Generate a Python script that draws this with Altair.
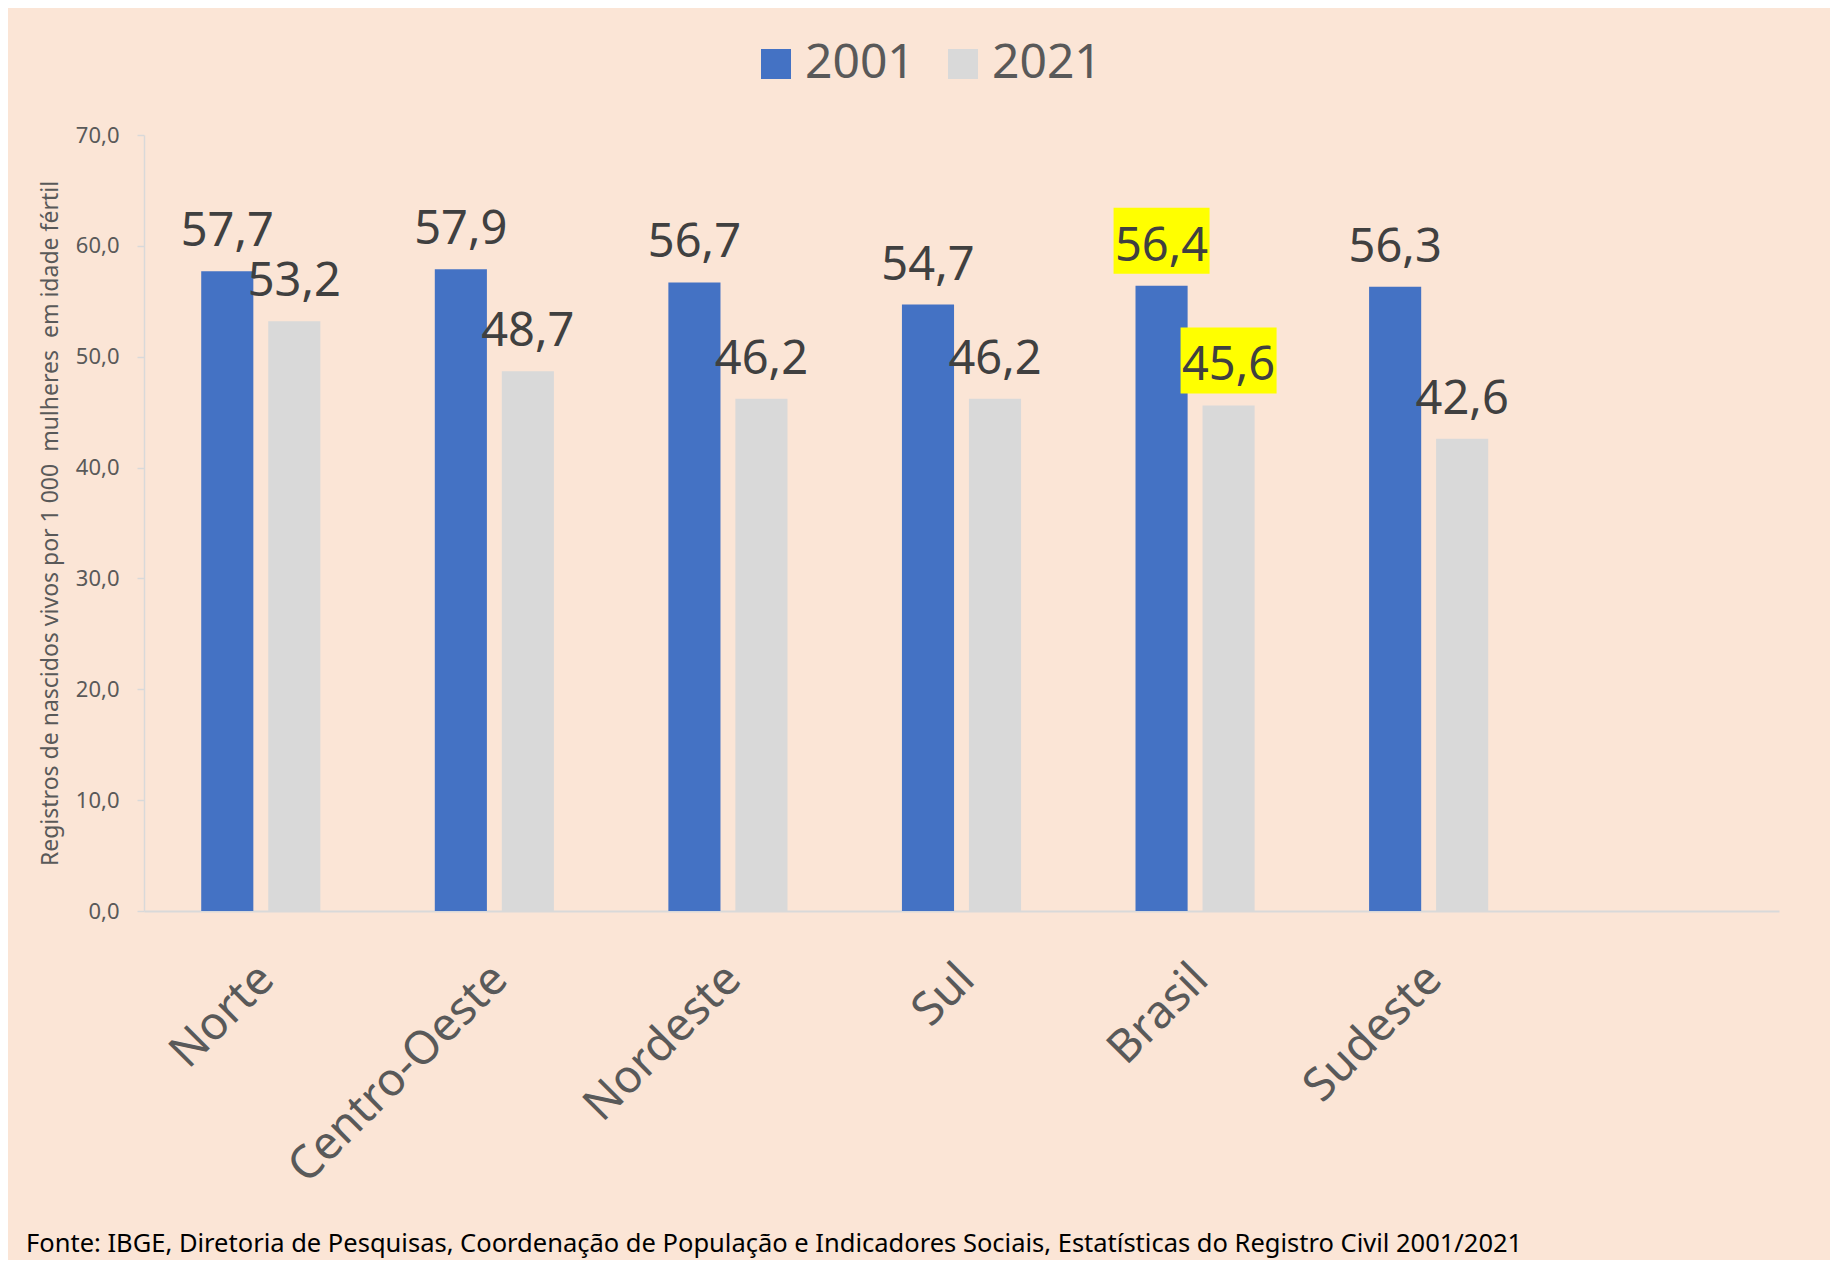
import altair as alt
import pandas as pd

regions = ["Norte", "Centro-Oeste", "Nordeste", "Sul", "Brasil", "Sudeste"]
v2001 = [57.7, 57.9, 56.7, 54.7, 56.4, 56.3]
v2021 = [53.2, 48.7, 46.2, 46.2, 45.6, 42.6]
years = ["2001", "2021"]
highlight = "Brasil"
y_ticks = [0, 10, 20, 30, 40, 50, 60, 70]
y_title = "Registros de nascidos vivos por 1 000\u00a0 mulheres\u00a0 em idade fértil"
source = ("Fonte: IBGE, Diretoria de Pesquisas, Coordenação de População e Indicadores Sociais, "
          "Estatísticas do Registro Civil 2001/2021")

rows = []
for r, a, b in zip(regions, v2001, v2021):
    for yr, v in zip(years, [a, b]):
        rows.append({"region": r, "year": yr, "value": v,
                     "label": f"{v:.1f}".replace(".", ",")})
df = pd.DataFrame(rows)

x_domain = regions + [" "]
FONT = "Noto Sans"

x = alt.X("region:N", sort=x_domain,
          scale=alt.Scale(domain=x_domain, paddingInner=0.49, paddingOuter=0.245),
          axis=alt.Axis(title=None, labelAngle=-45, labelFontSize=46, labelColor="#595959",
                        labelFont=FONT, domainColor="#D9D9D9", domainWidth=2, ticks=False,
                        labelPadding=45, labelLimit=0, labelOffset=-10))
xo = alt.XOffset("year:N", scale=alt.Scale(domain=years, paddingInner=0.2224, paddingOuter=0))
y = alt.Y("value:Q",
          scale=alt.Scale(domain=[0, 70], nice=False, zero=True),
          axis=alt.Axis(values=y_ticks,
                        labelExpr="replace(format(datum.value, '.1f'), '.', ',')",
                        labelFontSize=22, labelColor="#595959", labelFont=FONT,
                        domainColor="#D9D9D9", domainWidth=1.5,
                        tickColor="#D9D9D9", tickSize=7, tickWidth=1.5,
                        labelPadding=18, grid=False,
                        title=y_title, titleFontSize=23, titleFont=FONT,
                        titleColor="#595959", titleFontWeight="normal",
                        titleX=-94, titleY=388, titleAlign="center",
                        titleBaseline="middle", titleAngle=270))
color = alt.Color("year:N",
                  scale=alt.Scale(domain=years, range=["#4472C4", "#D9D9D9"]),
                  legend=alt.Legend(title=None, orient="none", legendX=608, legendY=-95,
                                    direction="horizontal", symbolType="square",
                                    symbolSize=900, symbolStrokeWidth=0, symbolOpacity=1,
                                    labelFontSize=48, labelColor="#595959", labelFont=FONT,
                                    labelOffset=5, columnPadding=24, padding=0))

base = alt.Chart(df)
bars = base.mark_bar().encode(x=x, xOffset=xo, y=y, color=color)
boxes = base.transform_filter(alt.datum.region == highlight).mark_point(
    shape="M-1,-0.6875L1,-0.6875L1,0.6875L-1,0.6875Z", size=9216, filled=True,
    color="#FFFF00", opacity=1, strokeWidth=0, yOffset=-45
).encode(x=x, xOffset=xo, y=y)
texts = base.mark_text(fontSize=47, font=FONT, color="#404040", baseline="alphabetic",
                       dy=-25).encode(x=x, xOffset=xo, y=y, text="label:N")

chart = alt.layer(bars, boxes, texts).properties(
    width=1635, height=776,
    autosize=alt.AutoSizeParams(type="none"),
    padding={"left": 136, "top": 127, "right": 51, "bottom": 349},
    title=alt.TitleParams(text=source, orient="bottom", anchor="start", frame="group",
                          fontSize=25.5, font=FONT, color="#000000", fontWeight="normal",
                          dx=-118, offset=41),
).configure(background="#FBE5D6").configure_view(strokeWidth=0)

chart.save("out.html", embed_options={"renderer": "svg", "actions": False})
